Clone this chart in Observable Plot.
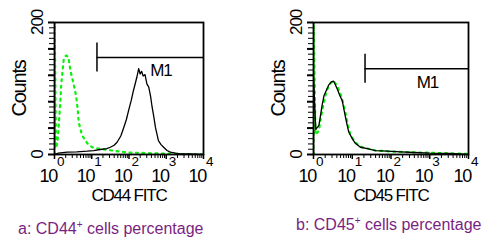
<!DOCTYPE html>
<html>
<head>
<meta charset="utf-8">
<script src="https://cdn.jsdelivr.net/npm/d3@7"></script>
<script src="https://cdn.jsdelivr.net/npm/@observablehq/plot@0.6"></script>
<style>
  html, body { margin: 0; padding: 0; background: #fff; }
  #root { position: relative; width: 499px; height: 249px; overflow: hidden; background: #fff; }
  .panel { position: absolute; top: 0; }
  .panel svg text { letter-spacing: -1.2px; }
  .caption { position: absolute; font-family: "Liberation Sans", Arial, sans-serif; font-size: 16px; line-height: 16px; color: #7a1f82; white-space: nowrap; }
  .caption sup { font-size: 10px; vertical-align: 6px; line-height: 0; }
</style>
</head>
<body>
<div id="root"></div>
<script>
// ---- Data (x values are log10 fluorescence exponents, y values are counts) ----
const decades = [0, 1, 2, 3, 4];
const yLabelTicks = [0, 200];

// Panel a: CD44 FITC
const cd44StainX = [0, 0.1, 0.34, 0.6, 0.875, 1.05, 1.23, 1.4, 1.5, 1.6, 1.68, 1.78, 1.86, 1.93, 1.99, 2.06, 2.12, 2.17, 2.21, 2.26, 2.30, 2.34, 2.38, 2.43, 2.48, 2.53, 2.58, 2.62, 2.67, 2.71, 2.79, 2.86, 2.93, 3.02, 3.11, 3.25, 3.38, 3.6, 3.8, 4.0];
const cd44StainY = [0, 2, 3.5, 4, 5, 6, 7.6, 9, 11, 14, 18.6, 28, 41, 53, 67, 82, 97, 108, 117, 130, 122, 126, 119, 121, 107, 102, 88, 72, 56, 41, 21, 15, 11, 6, 3.5, 2, 1, 1, 0.5, 0];
const cd44CtrlX = [0, 0, 0.04, 0.08, 0.11, 0.15, 0.18, 0.21, 0.25, 0.31, 0.37, 0.43, 0.52, 0.58, 0.62, 0.65, 0.74, 0.88, 1.01, 1.18, 1.55, 2.0, 2.8, 4.0];
const cd44CtrlY = [0, 230, 10, 18, 41, 74, 105, 124, 145, 150, 148, 127, 105, 89, 70, 49, 29, 17, 11, 9, 6, 3, 1.5, 0];
const cd44Gate = {from: 1.14, to: 4, level: 147, half: 22};

// Panel b: CD45 FITC
const cd45StainX = [0, 0, 0.06, 0.14, 0.18, 0.22, 0.27, 0.33, 0.39, 0.46, 0.52, 0.57, 0.63, 0.68, 0.74, 0.78, 0.83, 0.87, 0.91, 1.0, 1.08, 1.21, 1.39, 1.6, 1.9, 2.25, 2.6, 3.0, 3.5, 4.0];
const cd45StainY = [0, 117, 38, 44, 59, 74, 89, 97, 105, 110, 111, 105, 97, 89, 82, 70, 55, 44, 34, 24, 17, 11, 9, 6, 5, 4, 3, 2, 1.5, 0];
const cd45CtrlX = [0, 0, 0.05, 0.14, 0.18, 0.26, 0.34, 0.44, 0.52, 0.62, 0.72, 0.8, 0.88, 0.95, 1.08, 1.26, 1.6, 2.2, 2.76, 3.4, 4.0];
const cd45CtrlY = [0, 230, 30, 36, 52, 77, 97, 108, 112, 103, 88, 70, 47, 30, 18, 11, 6, 4, 3, 2, 1];
const cd45Gate = {from: 1.33, to: 4, level: 130, half: 22};

const gateLabel = "M1";
const yAxisLabel = "Counts";

// ---- Drawing ----
const FONT = '"Liberation Sans", Arial, sans-serif';
const GREEN = "#0cf00c";

const xMinorTicks = d3.range(0, 4).flatMap(d => d3.range(2, 10).map(k => d + Math.log10(k)));
const yMinorTicks = d3.range(0, 201, 8);
const yMajorTicks = d3.range(0, 201, 40);

function toRows(xs, ys) { return xs.map((x, i) => ({x, y: ys[i]})); }

function panel({width, marginLeft, marginRight, stain, ctrl, gate, xLabel}) {
  return Plot.plot({
    width, height: 205,
    marginLeft, marginRight, marginTop: 22, marginBottom: 51,
    x: {domain: [0, 4], axis: null},
    y: {domain: [0, 200], axis: null},
    style: {fontFamily: FONT, color: "#000", background: "transparent", overflow: "visible"},
    marks: [
      Plot.axisY(yMinorTicks, {tickSize: 5, tickFormat: () => "", label: null, strokeWidth: 1}),
      Plot.axisY(yMajorTicks, {tickSize: 6, tickFormat: () => "", label: null, strokeWidth: 2}),
      Plot.axisX(xMinorTicks, {tickSize: 4, tickFormat: () => "", label: null, strokeWidth: 1}),
      Plot.axisX(decades, {tickSize: 5, tickFormat: () => "", label: null, strokeWidth: 1.5}),
      Plot.line(ctrl, {x: "x", y: "y", stroke: GREEN, strokeWidth: 2.2, strokeDasharray: "2,4.5", clip: true}),
      Plot.line(stain, {x: "x", y: "y", stroke: "#000", strokeWidth: 1.3, clip: true}),
      Plot.frame({stroke: "#000", strokeWidth: 1.8}),
      Plot.ruleY([gate], {x1: "from", x2: "to", y: "level", stroke: "#000", strokeWidth: 1.5}),
      Plot.ruleX([gate], {x: "from", y1: d => d.level - d.half, y2: d => d.level + d.half, stroke: "#000", strokeWidth: 1.5}),
      Plot.text([gate], {x: d => (d.from + d.to) / 2, y: "level", text: () => gateLabel, textAnchor: "start", lineAnchor: "middle", dy: 13.5, fontSize: 17}),
      Plot.text(decades, {x: d => d, text: () => "10", frameAnchor: "bottom", textAnchor: "end", lineAnchor: "middle", dx: 2.5, dy: 22, fontSize: 18}),
      Plot.text(decades, {x: d => d, text: d => String(d), frameAnchor: "bottom", textAnchor: "start", lineAnchor: "middle", dx: 2.5, dy: 7, fontSize: 13.5}),
      Plot.text(yLabelTicks, {y: d => d, text: d => String(d), frameAnchor: "left", textAnchor: "middle", lineAnchor: "middle", dx: -17, dy: 0, rotate: -90, fontSize: 17}),
      Plot.text([yAxisLabel], {frameAnchor: "left", textAnchor: "middle", lineAnchor: "middle", dx: -35, rotate: -90, fontSize: 20}),
      Plot.text([xLabel], {frameAnchor: "bottom", textAnchor: "middle", lineAnchor: "middle", dy: 41, fontSize: 17})
    ]
  });
}

const root = document.getElementById("root");

const left = document.createElement("div");
left.className = "panel"; left.style.left = "0px";
left.appendChild(panel({width: 250, marginLeft: 54, marginRight: 47,
  stain: toRows(cd44StainX, cd44StainY), ctrl: toRows(cd44CtrlX, cd44CtrlY), gate: cd44Gate, xLabel: "CD44 FITC"}));
root.appendChild(left);

const right = document.createElement("div");
right.className = "panel"; right.style.left = "250px";
right.appendChild(panel({width: 249, marginLeft: 63, marginRight: 31,
  stain: toRows(cd45StainX, cd45StainY), ctrl: toRows(cd45CtrlX, cd45CtrlY), gate: cd45Gate, xLabel: "CD45 FITC"}));
root.appendChild(right);

const capA = document.createElement("div");
capA.className = "caption"; capA.style.left = "18px"; capA.style.top = "221px";
capA.innerHTML = "a: CD44<sup>+</sup> cells percentage";
root.appendChild(capA);

const capB = document.createElement("div");
capB.className = "caption"; capB.style.left = "296px"; capB.style.top = "217px";
capB.innerHTML = "b: CD45<sup>+</sup> cells percentage";
root.appendChild(capB);
</script>
</body>
</html>
